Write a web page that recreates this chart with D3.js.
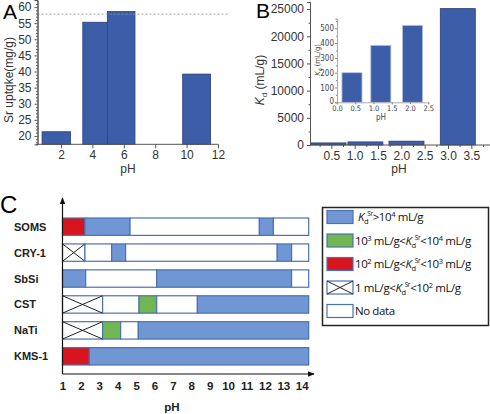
<!DOCTYPE html>
<html><head><meta charset="utf-8">
<script src="https://cdn.jsdelivr.net/npm/d3@7/dist/d3.min.js"></script>
<style>body{margin:0;background:#fff}svg{display:block;font-family:"Liberation Sans",Arial,sans-serif}</style>
</head><body><svg id="c" width="490" height="414"></svg>
<script>
// Panel A data
const aPH = [1.7, 4.17, 5.83, 10.64];
const aWidth = [1.82, 1.57, 1.76, 1.78];
const aUptake = [21.3, 55.3, 58.6, 39.2];
const aRef = 57.8;
const aXTicks = [2, 4, 6, 8, 10, 12];
const aYTicks = [20, 25, 30, 35, 40, 45, 50, 55, 60];
// Panel B data
const bPH = [0.44, 1.23, 2.11, 3.21];
const bKd = [200, 385, 520, 24900];
const bXTicks = [0.5, 1.0, 1.5, 2.0, 2.5, 3.0, 3.5];
const bYTicks = [0, 5000, 10000, 15000, 20000, 25000];
const insetPH = [0.41, 1.2, 2.07];
const insetKd = [200, 385, 520];
const insetXTicks = [0.0, 0.5, 1.0, 1.5, 2.0, 2.5];
const insetYTicks = [0, 100, 200, 300, 400, 500];
// Panel C data
const materials = ["SOMS", "CRY-1", "SbSi", "CST", "NaTi", "KMS-1"];
const cTicks = [1,2,3,4,5,6,7,8,9,10,11,12,13,14];
const segments = [
  ["SOMS",1,2.22,"red"],["SOMS",2.22,4.67,"blue"],["SOMS",4.67,11.7,"none"],["SOMS",11.7,12.46,"blue"],["SOMS",12.46,14.38,"none"],
  ["CRY-1",1,2.22,"cross"],["CRY-1",2.22,3.67,"none"],["CRY-1",3.67,4.43,"blue"],["CRY-1",4.43,12.67,"none"],["CRY-1",12.67,13.45,"blue"],["CRY-1",13.45,14.38,"none"],
  ["SbSi",1,2.26,"blue"],["SbSi",2.26,6.12,"none"],["SbSi",6.12,13.45,"blue"],["SbSi",13.45,14.38,"none"],
  ["CST",1,3.18,"cross"],["CST",3.18,5.16,"none"],["CST",5.16,6.12,"green"],["CST",6.12,8.33,"none"],["CST",8.33,14.38,"blue"],
  ["NaTi",1,3.18,"cross"],["NaTi",3.18,4.16,"green"],["NaTi",4.16,5.12,"none"],["NaTi",5.12,14.38,"blue"],
  ["KMS-1",1,2.46,"red"],["KMS-1",2.46,14.38,"blue"]
];
const levels = ["blue","green","red","cross","none"];
const levelColors = ["#7097d4","#70b752","#d8141e","#ffffff","#ffffff"];

const svg = d3.select("#c");
const barFill = "#3c5ea9", barStroke = "#2b3f75", txt = "#333";

// ---------- Panel A ----------
{
  const x = d3.scaleLinear().domain([0.5, 12]).range([37.5, 218]);
  const y = d3.scaleLinear().domain([17.4, 62.2]).range([144.3, 0]);
  const g = svg.append("g");
  g.append("g").selectAll("rect").data(aUptake).join("rect")
    .attr("x", (d,i)=>x(aPH[i]-aWidth[i]/2)).attr("width",(d,i)=>x(aPH[i]+aWidth[i]/2)-x(aPH[i]-aWidth[i]/2))
    .attr("y", d=>y(d)).attr("height", d=>y(17.4)-y(d))
    .attr("fill", barFill).attr("stroke", barStroke).attr("stroke-width", 0.8);
  g.append("line").attr("x1", x(0.5)).attr("x2", 229).attr("y1", y(aRef)).attr("y2", y(aRef))
    .attr("stroke","#999").attr("stroke-dasharray","2,2").attr("stroke-width",0.8);
  const ya = g.append("g").attr("transform",`translate(${x(0.5)},0)`)
    .call(d3.axisLeft(y).tickValues(aYTicks).tickSize(3).tickPadding(3));
  const yMinor = g.append("g").attr("transform",`translate(${x(0.5)},0)`)
    .call(d3.axisLeft(y).tickValues(d3.range(18,62,1).filter(v=>v%5)).tickSize(1.5).tickFormat(""));
  const xa = g.append("g").attr("transform",`translate(0,${y(17.4)})`)
    .call(d3.axisBottom(x).tickValues(aXTicks).tickSize(4).tickPadding(2));
  [ya,yMinor,xa].forEach(a=>{a.select(".domain").attr("stroke","#555");a.selectAll("line").attr("stroke","#555");
    a.selectAll("text").attr("font-size",12).attr("fill",txt);});
  xa.select(".domain").attr("d",`M${x(0.5)},0H${x(12)}`);
  g.append("text").attr("x",3).attr("y",19).attr("font-size",21).text("A");
  g.append("text").attr("transform","translate(13,80) rotate(-90)").attr("text-anchor","middle")
    .attr("font-size",12).attr("fill",txt).text("Sr uptqke(mg/g)");
  g.append("text").attr("x",128).attr("y",173).attr("text-anchor","middle").attr("font-size",12).attr("fill",txt).text("pH");
}

// ---------- Panel B ----------
{
  const x = d3.scaleLinear().domain([0, 3.9]).range([308, 490]);
  const y = d3.scaleLinear().domain([0, 26300]).range([145, 2]);
  const g = svg.append("g");
  const bw = 0.75;
  g.append("g").selectAll("rect").data(bKd).join("rect")
    .attr("x",(d,i)=>x(bPH[i]-bw/2)).attr("width",(d,i)=>x(bPH[i]+bw/2)-x(bPH[i]-bw/2))
    .attr("y",d=>y(d)-1).attr("height",d=>y(0)-y(d)+1)
    .attr("fill",barFill).attr("stroke",barStroke).attr("stroke-width",0.8);
  const ya = g.append("g").attr("transform",`translate(310,0)`)
    .call(d3.axisLeft(y).tickValues(bYTicks).tickSize(3).tickPadding(3).tickFormat(d3.format("d")));
  const yMinor = g.append("g").attr("transform",`translate(310,0)`)
    .call(d3.axisLeft(y).tickValues([2500,7500,12500,17500,22500]).tickSize(1.5).tickFormat(""));
  const xa = g.append("g").attr("transform",`translate(0,${y(0)})`)
    .call(d3.axisBottom(x).tickValues(bXTicks).tickSize(4).tickPadding(2).tickFormat(d3.format(".1f")));
  const xMinor = g.append("g").attr("transform",`translate(0,${y(0)})`)
    .call(d3.axisBottom(x).tickValues([0.25,0.75,1.25,1.75,2.25,2.75,3.25,3.75]).tickSize(2).tickFormat(""));
  [ya,yMinor,xa,xMinor].forEach(a=>{a.select(".domain").attr("stroke","#555");a.selectAll("line").attr("stroke","#555");
    a.selectAll("text").attr("font-size",12).attr("fill",txt);});
  xa.select(".domain").attr("d",`M310,0H490`);
  xMinor.select(".domain").remove();
  g.append("text").attr("x",256).attr("y",18).attr("font-size",21).text("B");
  const yl = g.append("text").attr("transform","translate(264,80) rotate(-90)").attr("text-anchor","middle")
    .attr("font-size",12).attr("fill",txt);
  yl.append("tspan").attr("font-style","italic").text("K");
  yl.append("tspan").attr("font-size",8).attr("baseline-shift",-3).text("d");
  yl.append("tspan").text(" (mL/g)");
  g.append("text").attr("x",399).attr("y",173).attr("text-anchor","middle").attr("font-size",12).attr("fill",txt).text("pH");

  // inset
  const xi = d3.scaleLinear().domain([0, 2.5]).range([337, 428.3]);
  const yi = d3.scaleLinear().domain([0, 565]).range([102.3, 18.7]);
  const ib = 0.55;
  g.append("g").selectAll("rect").data(insetKd).join("rect")
    .attr("x",(d,i)=>xi(insetPH[i]-ib/2)).attr("width",(d,i)=>xi(insetPH[i]+ib/2)-xi(insetPH[i]-ib/2))
    .attr("y",d=>yi(d)).attr("height",d=>yi(0)-yi(d))
    .attr("fill",barFill).attr("stroke","#b8c2d8").attr("stroke-width",0.8);
  const iy = g.append("g").attr("transform",`translate(${xi(0)},0)`)
    .call(d3.axisLeft(yi).tickValues(insetYTicks).tickSize(2).tickPadding(1));
  const iyMinor = g.append("g").attr("transform",`translate(${xi(0)},0)`)
    .call(d3.axisLeft(yi).tickValues([50,150,250,350,450,550]).tickSize(1).tickFormat(""));
  const ix = g.append("g").attr("transform",`translate(0,${yi(0)})`)
    .call(d3.axisBottom(xi).tickValues(insetXTicks).tickSize(2).tickPadding(1).tickFormat(d3.format(".1f")));
  [iy,iyMinor,ix].forEach(a=>{a.select(".domain").attr("stroke","#aaa");a.selectAll("line").attr("stroke","#888");
    a.selectAll("text").attr("font-size",8).attr("fill","#444").attr("font-family","DejaVu Sans Condensed, DejaVu Sans");});
  ix.selectAll("text").attr("font-size",7.5);
  iy.selectAll("text").filter(d=>d===0).attr("dy","0.1em");
  const il = g.append("text").attr("transform","translate(320,60) rotate(-90)").attr("text-anchor","middle")
    .attr("font-size",7.5).attr("fill","#444").attr("font-family","DejaVu Sans Condensed, DejaVu Sans");
  il.append("tspan").attr("font-style","italic").text("K");
  il.append("tspan").attr("font-size",5).attr("baseline-shift",-2).text("d");
  il.append("tspan").text(" (mL/g)");
  g.append("text").attr("x",381).attr("y",120).attr("text-anchor","middle").attr("font-size",8)
    .attr("fill","#444").attr("font-family","DejaVu Sans Condensed, DejaVu Sans").text("pH");
}

// ---------- Panel C ----------
{
  const x = d3.scaleLinear().domain([1, 14]).range([62.5, 301.7]);
  const y = d3.scaleBand().domain(materials).range([218, 365]).paddingInner(0.33).paddingOuter(0);
  const color = d3.scaleOrdinal().domain(levels).range(levelColors);
  const g = svg.append("g");
  const seg = g.append("g").selectAll("g").data(segments).join("g");
  seg.append("rect")
    .attr("x", d=>x(d[1])).attr("width", d=>x(d[2])-x(d[1]))
    .attr("y", d=>y(d[0])).attr("height", y.bandwidth())
    .attr("fill", d=>color(d[3])).attr("stroke", "#4a72b0").attr("stroke-width", 1.2);
  seg.filter(d=>d[3]==="cross").append("path")
    .attr("d", d=>`M${x(d[1])},${y(d[0])}L${x(d[2])},${y(d[0])+y.bandwidth()}M${x(d[1])},${y(d[0])+y.bandwidth()}L${x(d[2])},${y(d[0])}`)
    .attr("stroke","#222").attr("stroke-width",1).attr("fill","none");
  g.append("defs").append("marker").attr("id","arr").attr("viewBox","0 0 10 10").attr("refX",9).attr("refY",5)
    .attr("markerWidth",6).attr("markerHeight",6).attr("orient","auto")
    .append("path").attr("d","M0,1L10,5L0,9z").attr("fill","#111");
  const xa = g.append("g").attr("transform","translate(0,374)")
    .call(d3.axisBottom(x).tickValues(cTicks).tickSize(0).tickPadding(8));
  xa.select(".domain").remove();
  xa.selectAll("text").attr("font-size",11.5).attr("font-weight","bold").attr("fill","#222");
  g.append("line").attr("x1",x(1)).attr("x2",314).attr("y1",374).attr("y2",374)
    .attr("stroke","#111").attr("stroke-width",1.2).attr("marker-end","url(#arr)");
  g.append("line").attr("x1",x(1)).attr("x2",x(1)).attr("y1",374).attr("y2",198)
    .attr("stroke","#111").attr("stroke-width",1.2).attr("marker-end","url(#arr)");
  g.append("g").selectAll("text").data(materials).join("text")
    .attr("x",14).attr("y",d=>y(d)+y.bandwidth()/2+4).attr("font-size",11).attr("font-weight","bold")
    .attr("fill","#222").text(d=>d);
  g.append("text").attr("x",172).attr("y",411).attr("text-anchor","middle").attr("font-size",11.5)
    .attr("font-weight","bold").attr("fill","#222").text("pH");
  g.append("text").attr("x",0).attr("y",213).attr("font-size",24).text("C");

  // legend
  const lg = g.append("g");
  lg.append("rect").attr("x",322.5).attr("y",207.5).attr("width",166).attr("height",118)
    .attr("fill","#fff").attr("stroke","#222").attr("stroke-width",1.5);
  const rowsY = d3.scalePoint().domain(levels).range([217, 311]);
  const items = lg.selectAll("g").data(levels).join("g").attr("transform",d=>`translate(0,${rowsY(d)})`);
  items.append("rect").attr("x",327).attr("y",-6.5).attr("width",26).attr("height",13)
    .attr("fill",d=>color(d)).attr("stroke","#4a72b0").attr("stroke-width",1.2);
  items.filter(d=>d==="cross").append("path").attr("d","M327,-6.5L353,6.5M327,6.5L353,-6.5")
    .attr("stroke","#222").attr("stroke-width",1).attr("fill","none");
  const T = items.append("text").attr("x",355).attr("y",4).attr("font-size",11.5).attr("fill","#111")
    .attr("font-family","Open Sans, Liberation Sans, sans-serif").attr("letter-spacing","-0.4");
  function kd(t){
    t.append("tspan").attr("font-style","italic").text("K");
    t.append("tspan").attr("font-size",7.5).attr("baseline-shift",-2.5).text("d");
    t.append("tspan").attr("font-size",6.5).attr("dx",-1).attr("baseline-shift",5).text("Sr");
  }
  function sup(t, base, s){ t.append("tspan").text(base); t.append("tspan").attr("font-size",7.5).attr("baseline-shift",4).text(s); }
  T.each(function(d){
    const t = d3.select(this);
    if(d==="blue"){ t.attr("x",358); kd(t); sup(t,">10","4"); t.append("tspan").text(" mL/g"); }
    else if(d==="green"){ sup(t,"10","3"); t.append("tspan").text(" mL/g<"); kd(t); sup(t,"<10","4"); t.append("tspan").text(" mL/g"); }
    else if(d==="red"){ sup(t,"10","2"); t.append("tspan").text(" mL/g<"); kd(t); sup(t,"<10","3"); t.append("tspan").text(" mL/g"); }
    else if(d==="cross"){ t.append("tspan").text("1 mL/g<"); kd(t); sup(t,"<10","2"); t.append("tspan").text(" mL/g"); }
    else { t.text("No data"); }
  });
}
</script></body></html>
